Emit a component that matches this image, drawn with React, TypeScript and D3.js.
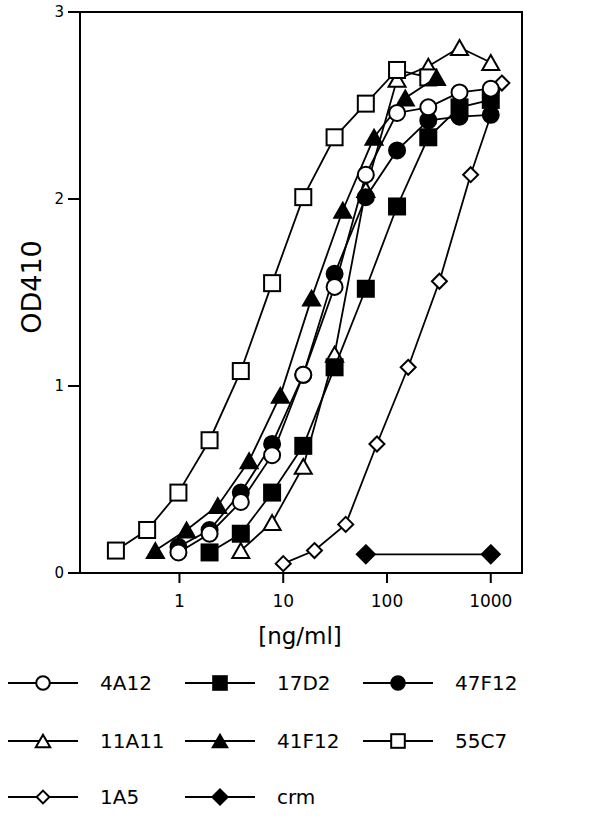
import React from "react";
import * as d3 from "d3";

// concentrations [ng/ml] and OD410 read per antibody
const conc4A12 = [0.977, 1.95, 3.9, 7.81, 15.6, 31.25, 62.5, 125, 250, 500, 1000];
const od4A12 = [0.11, 0.21, 0.38, 0.63, 1.06, 1.53, 2.13, 2.46, 2.49, 2.57, 2.59];
const conc47F12 = [0.977, 1.95, 3.9, 7.81, 15.6, 31.25, 62.5, 125, 250, 500, 1000];
const od47F12 = [0.14, 0.23, 0.43, 0.69, 1.06, 1.6, 2.01, 2.26, 2.42, 2.44, 2.45];
const conc17D2 = [1.95, 3.9, 7.81, 15.6, 31.25, 62.5, 125, 250, 500, 1000];
const od17D2 = [0.11, 0.21, 0.43, 0.68, 1.1, 1.52, 1.96, 2.33, 2.49, 2.53];
const conc11A11 = [3.9, 7.81, 15.6, 31.25, 62.5, 125, 250, 500, 1000];
const od11A11 = [0.12, 0.27, 0.57, 1.17, 2.05, 2.64, 2.71, 2.81, 2.73];
const conc41F12 = [0.586, 1.17, 2.34, 4.69, 9.38, 18.75, 37.5, 75, 150, 300];
const od41F12 = [0.12, 0.23, 0.36, 0.6, 0.95, 1.47, 1.94, 2.33, 2.54, 2.65];
const conc55C7 = [0.244, 0.488, 0.977, 1.95, 3.9, 7.81, 15.6, 31.25, 62.5, 125, 250];
const od55C7 = [0.12, 0.23, 0.43, 0.71, 1.08, 1.55, 2.01, 2.33, 2.51, 2.69, 2.65];
const conc1A5 = [10, 20, 40, 80, 160, 320, 640, 1280];
const od1A5 = [0.05, 0.12, 0.26, 0.69, 1.1, 1.56, 2.13, 2.62];
const concCrm = [62.5, 1000];
const odCrm = [0.1, 0.1];

const xTicks = [1, 10, 100, 1000];
const yTicks = [0, 1, 2, 3];
const legendOrder = ["4A12", "17D2", "47F12", "11A11", "41F12", "55C7", "1A5", "crm"];

const series = [
  { name: "crm", x: concCrm, y: odCrm },
  { name: "1A5", x: conc1A5, y: od1A5 },
  { name: "11A11", x: conc11A11, y: od11A11 },
  { name: "17D2", x: conc17D2, y: od17D2 },
  { name: "47F12", x: conc47F12, y: od47F12 },
  { name: "55C7", x: conc55C7, y: od55C7 },
  { name: "41F12", x: conc41F12, y: od41F12 },
  { name: "4A12", x: conc4A12, y: od4A12 },
];

const markerStyle: Record<string, { shape: string; fill: string; size: number }> = {
  "4A12": { shape: "circle", fill: "#fff", size: 8 },
  "47F12": { shape: "circle", fill: "#000", size: 8 },
  "17D2": { shape: "square", fill: "#000", size: 8 },
  "55C7": { shape: "square", fill: "#fff", size: 8 },
  "11A11": { shape: "triangle", fill: "#fff", size: 8.5 },
  "41F12": { shape: "triangle", fill: "#000", size: 8.5 },
  "1A5": { shape: "diamond", fill: "#fff", size: 7.5 },
  crm: { shape: "diamond", fill: "#000", size: 9 },
};

function Marker({ cx, cy, name, scale = 1 }: { cx: number; cy: number; name: string; scale?: number }) {
  const s = markerStyle[name];
  const r = s.size * scale;
  const common = { fill: s.fill, stroke: "#000", strokeWidth: 2 };
  if (s.shape === "circle") return <circle cx={cx} cy={cy} r={r} {...common} />;
  if (s.shape === "square") return <rect x={cx - r} y={cy - r} width={2 * r} height={2 * r} {...common} />;
  if (s.shape === "triangle") {
    const h = r * 1.75;
    return <path d={`M${cx},${cy - h / 2}L${cx + r},${cy + h / 2}L${cx - r},${cy + h / 2}Z`} {...common} />;
  }
  return <path d={`M${cx},${cy - r}L${cx + r},${cy}L${cx},${cy + r}L${cx - r},${cy}Z`} {...common} />;
}

const font = "DejaVu Sans, sans-serif";

export default function App() {
  const left = 80, right = 522, top = 12, bottom = 573;
  const x = d3.scaleLog().domain([0.11, 2000]).range([left, right]);
  const y = d3.scaleLinear().domain([0, 3]).range([bottom, top]);
  const line = d3.line<[number, number]>().x((d) => x(d[0])).y((d) => y(d[1]));

  const legendCols = [8, 185, 363];
  const legendRows = [683, 741, 797];

  return (
    <svg width={600} height={820} style={{ position: "absolute", left: 0, top: 0 }} fontFamily={font}>
      <rect width={600} height={820} fill="#fff" />
      {/* frame */}
      <path d={`M${left},${top}H${right}V${bottom}H${left}Z`} fill="none" stroke="#000" strokeWidth={2} />
      {yTicks.map((t) => (
        <g key={t}>
          <line x1={left - 12} x2={left} y1={y(t)} y2={y(t)} stroke="#000" strokeWidth={2} />
          <text x={left - 16} y={y(t)} dy="0.35em" textAnchor="end" fontSize={15}>{t}</text>
        </g>
      ))}
      {xTicks.map((t) => (
        <g key={t}>
          <line x1={x(t)} x2={x(t)} y1={bottom} y2={bottom + 10} stroke="#000" strokeWidth={2} />
          <text x={x(t)} y={bottom + 28} dy="0.35em" textAnchor="middle" fontSize={17}>{t}</text>
        </g>
      ))}
      <text x={300} y={636} dy="0.35em" textAnchor="middle" fontSize={23}>[ng/ml]</text>
      <text transform="translate(32,287) rotate(-90)" dy="0.35em" textAnchor="middle" fontSize={27}>OD410</text>

      {series.map((s) => {
        const pts = s.x.map((v, i) => [v, s.y[i]] as [number, number]);
        return (
          <g key={s.name}>
            <path d={line(pts) || ""} fill="none" stroke="#000" strokeWidth={1.8} />
            {pts.map((p, i) => (
              <Marker key={i} cx={x(p[0])} cy={y(p[1])} name={s.name} />
            ))}
          </g>
        );
      })}

      {legendOrder.map((name, i) => {
        const lx = legendCols[i % 3];
        const ly = legendRows[Math.floor(i / 3)];
        return (
          <g key={name}>
            <line x1={lx} x2={lx + 70} y1={ly} y2={ly} stroke="#000" strokeWidth={1.8} />
            <Marker cx={lx + 35} cy={ly} name={name} scale={0.85} />
            <text x={lx + 92} y={ly} dy="0.35em" fontSize={20}>{name}</text>
          </g>
        );
      })}
    </svg>
  );
}
